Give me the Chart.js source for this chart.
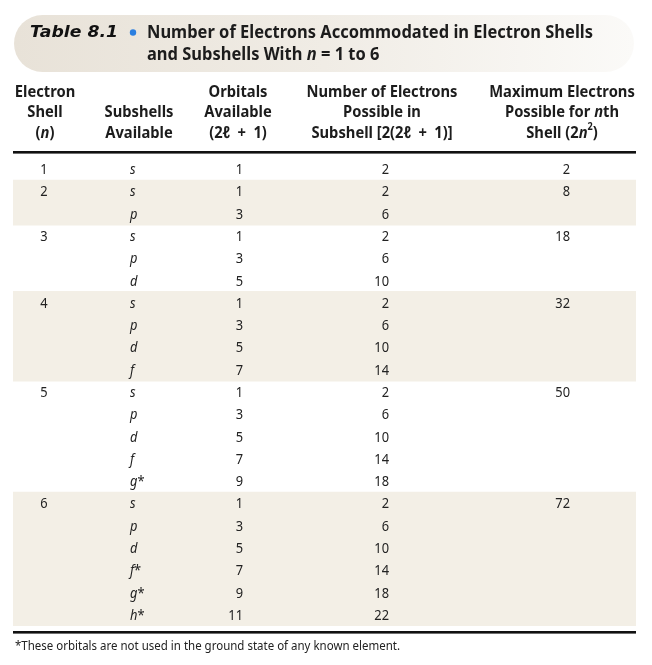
<!DOCTYPE html>
<html><head><meta charset="utf-8">
<script src="https://cdn.jsdelivr.net/npm/chart.js@4.4.0/dist/chart.umd.min.js"></script>
<style>html,body{margin:0;padding:0;background:#fff;}canvas{display:block;}</style>
</head><body>
<canvas id="c" width="652" height="665"></canvas>
<script>
// ---------- content ----------
const tableNumber = 'Table 8.1';
const titleLines = ['Number of Electrons Accommodated in Electron Shells', 'and Subshells With _n_ = 1 to 6'];
const headerShell = ['Electron', 'Shell', '(_n_)'];
const headerSubshells = ['', 'Subshells', 'Available'];
const headerOrbitals = ['Orbitals', 'Available', '(2ℓ\u2002+\u20021)'];
const headerElectrons = ['Number of Electrons', 'Possible in', 'Subshell [2(2ℓ\u2002+\u20021)]'];
const headerMax = ['Maximum Electrons', 'Possible for _n_th', 'Shell (2_n_^2^)'];
const footnote = '*These orbitals are not used in the ground state of any known element.';

// ---------- data (one entry per table row) ----------
const rowShell = ['1','2','','3','','','4','','','','5','','','','','6','','','','',''];
const rowSubshell = ['s','s','p','s','p','d','s','p','d','f','s','p','d','f','g*','s','p','d','f*','g*','h*'];
const rowOrbitals = [1,1,3,1,3,5,1,3,5,7,1,3,5,7,9,1,3,5,7,9,11];
const rowElectrons = [2,2,6,2,6,10,2,6,10,14,2,6,10,14,18,2,6,10,14,18,22];
const rowMaxElectrons = [2,8,null,18,null,null,32,null,null,null,50,null,null,null,null,72,null,null,null,null,null];

// shaded band for even-numbered shells
let curShell = 0;
const rowBand = rowShell.map(s => { if (s !== '') curShell = +s; return curShell % 2 === 0 ? [0, 1] : null; });

// ---------- text helpers ----------
function parseRich(s){
  const out=[]; const re=/(_[^_]+_|\^[^^]+\^)/g; let last=0,m;
  while((m=re.exec(s))){
    if(m.index>last) out.push({t:s.slice(last,m.index)});
    const tok=m[0];
    if(tok[0]==='_') out.push({t:tok.slice(1,-1),it:true}); else out.push({t:tok.slice(1,-1),sup:true});
    last=m.index+tok.length;
  }
  if(last<s.length) out.push({t:s.slice(last)});
  return out;
}
function fontStr(st,sg){
  const size = sg.sup ? st.size*0.62 : st.size;
  return `${(sg.it||st.italic)?'italic ':''}${st.weight} ${size}px ${st.family}`;
}
function richWidth(ctx,st,segs){
  let w=0; for(const sg of segs){ ctx.font=fontStr(st,sg); w+=ctx.measureText(sg.t).width*st.sx; } return w;
}
function drawRich(ctx,st,text,x,y,align){
  const segs=parseRich(text); const w=richWidth(ctx,st,segs);
  let cx = align==='center' ? x-w/2 : align==='right' ? x-w : x;
  ctx.textBaseline='middle'; ctx.textAlign='left'; ctx.fillStyle=st.color;
  for(const sg of segs){
    ctx.font=fontStr(st,sg);
    const sw=ctx.measureText(sg.t).width*st.sx;
    ctx.save(); ctx.translate(cx, sg.sup ? y-st.size*0.36 : y); ctx.scale(st.sx,1); ctx.fillText(sg.t,0,0); ctx.restore();
    cx+=sw;
  }
}
function calibrate(ctx,st,text,target){ st.sx=1; st.sx = target / richWidth(ctx,st,parseRich(text)); }

const FAM = '"Noto Sans", "DejaVu Sans", sans-serif';
const stTag = {family:'"DejaVu Sans", sans-serif', weight:'bold', size:16, italic:true, color:'#111', sx:1};
const stTitle = {family:FAM, weight:'bold', size:17.5, color:'#1c1c1c', sx:1};
const stHead = {family:FAM, weight:'bold', size:16.5, color:'#1c1c1c', sx:1};
const stBody = {family:FAM, weight:'normal', size:14, color:'#222', sx:1};
const stNote = {family:FAM, weight:'normal', size:12.5, color:'#222', sx:1};

// column anchors (layout)
const COL = {shell:44, sub:130, orb:243, elec:389, max:570};
const HEAD_X = [45, 139, 238, 382, 562];
const HEAD_Y = [92, 112, 133];
const BODY_DY = 1;

const tablePlugin = {
  id:'tableText',
  beforeDatasetsDraw(chart){
    const ctx=chart.ctx;
    calibrate(ctx,stTag,tableNumber,88);
    calibrate(ctx,stTitle,titleLines[0],446);
    calibrate(ctx,stHead,headerElectrons[0],151);
    calibrate(ctx,stNote,footnote,385);
    stBody.sx = stNote.sx;
    // title pill
    ctx.save();
    const x0=14,x1=634,y0=15,y1=72,r=(y1-y0)/2;
    const g=ctx.createLinearGradient(x0,0,x1,0);
    g.addColorStop(0,'#e8e2d8'); g.addColorStop(0.5,'#f0ece5'); g.addColorStop(1,'#fbfaf8');
    ctx.fillStyle=g;
    ctx.beginPath();
    ctx.moveTo(x0+r,y0); ctx.lineTo(x1-r,y0); ctx.arc(x1-r,y0+r,r,-Math.PI/2,Math.PI/2);
    ctx.lineTo(x0+r,y1); ctx.arc(x0+r,y0+r,r,Math.PI/2,Math.PI*1.5); ctx.closePath(); ctx.fill();
    ctx.restore();
  },
  afterDatasetsDraw(chart){
    const ctx=chart.ctx; const ys=chart.scales.y; const ca=chart.chartArea;
    ctx.save();
    // title
    drawRich(ctx,stTag,tableNumber,30,33,'left');
    ctx.fillStyle='#2b7fe0'; ctx.beginPath(); ctx.arc(133,32.5,3.2,0,Math.PI*2); ctx.fill();
    drawRich(ctx,stTitle,titleLines[0],147,33,'left');
    drawRich(ctx,stTitle,titleLines[1],147,55,'left');
    // header
    const heads=[headerShell,headerSubshells,headerOrbitals,headerElectrons,headerMax];
    heads.forEach((h,c)=>h.forEach((t,l)=>{ if(t) drawRich(ctx,stHead,t,HEAD_X[c],HEAD_Y[l],'center'); }));
    // rules
    ctx.fillStyle='#111';
    ctx.fillRect(ca.left,151,ca.right-ca.left,2.6);
    ctx.fillRect(ca.left,631,ca.right-ca.left,2.6);
    // rows
    rowSubshell.forEach((sub,i)=>{
      const y=ys.getPixelForValue(i)+BODY_DY;
      if(rowShell[i]) drawRich(ctx,stBody,rowShell[i],COL.shell,y,'center');
      drawRich(ctx,stBody,'_'+sub.replace('*','')+'_'+(sub.includes('*')?'*':''),COL.sub,y,'left');
      drawRich(ctx,stBody,String(rowOrbitals[i]),COL.orb,y,'right');
      drawRich(ctx,stBody,String(rowElectrons[i]),COL.elec,y,'right');
      if(rowMaxElectrons[i]!==null) drawRich(ctx,stBody,String(rowMaxElectrons[i]),COL.max,y,'right');
    });
    drawRich(ctx,stNote,footnote,15,646,'left');
    ctx.restore();
  }
};

new Chart(document.getElementById('c'), {
  type:'bar',
  data:{ labels: rowSubshell.map((s,i)=>String(i)), datasets:[{ data: rowBand, backgroundColor:'#f3efe6', borderWidth:0, barPercentage:1, categoryPercentage:1, inflateAmount:0.6 }] },
  options:{
    indexAxis:'y', responsive:false, animation:false, events:[],
    layout:{ padding:{ left:13, right:16, top:158, bottom:39 } },
    scales:{ x:{ display:false, min:0, max:1 }, y:{ display:false } },
    plugins:{ legend:{display:false}, tooltip:{enabled:false}, title:{display:false} }
  },
  plugins:[tablePlugin]
});
</script>
</body></html>
